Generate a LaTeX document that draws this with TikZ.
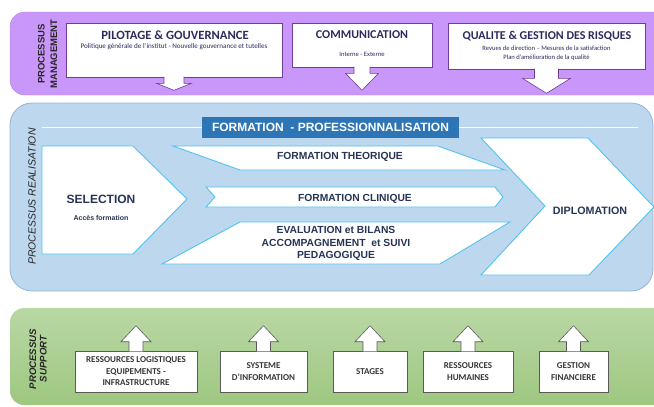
\documentclass[tikz,border=0pt]{standalone}
\usepackage{fontspec}
\setmainfont{Liberation Sans}
\newfontfamily\calibri{Carlito}
\usetikzlibrary{calc}

\definecolor{mauve}{RGB}{201,150,250}
\definecolor{mauvetrait}{RGB}{178,128,228}
\definecolor{violetbord}{RGB}{112,60,150}
\definecolor{titreviolet}{RGB}{45,42,95}
\definecolor{bleufond}{RGB}{189,215,238}
\definecolor{bleubord}{RGB}{150,180,215}
\definecolor{bleutitre}{RGB}{46,117,182}
\definecolor{cyanbord}{RGB}{80,195,240}
\definecolor{texteprocess}{RGB}{38,52,85}
\definecolor{vertclair}{RGB}{185,216,165}
\definecolor{vertfonce}{RGB}{158,199,128}
\definecolor{grisbord}{RGB}{90,90,90}
\definecolor{gristexte}{RGB}{55,55,55}

\begin{document}
\begin{tikzpicture}[
        x=1pt, y=-1pt,
        topbox/.style={draw=violetbord, fill=white, line width=0.6pt, inner sep=0pt},
        toptitle/.style={text=titreviolet, font=\calibri\bfseries\fontsize{12}{14}\selectfont},
        topsub/.style={text=titreviolet, font=\calibri\fontsize{6.6}{9}\selectfont},
        etape/.style={draw=cyanbord, fill=white, line width=0.9pt},
        etapetxt/.style={text=texteprocess, font=\bfseries\fontsize{10.3}{12.5}\selectfont, align=center},
        supbox/.style={draw=grisbord, fill=white, line width=0.6pt, inner sep=0pt, minimum height=41pt,
            text=gristexte, align=center, font=\calibri\bfseries\fontsize{9}{11.5}\selectfont},
        fleche/.style={fill=white, line width=0.6pt}
    ]

        % Page frame
        \useasboundingbox (0,0) rectangle (654,407);
        \clip (0,0) rectangle (654,407);

        % Bands
        \draw[fill=mauve, draw=mauvetrait, rounded corners=15pt] (670,12) -- (10,12) -- (10,95) -- (670,95);
        \draw[fill=bleufond, draw=bleubord, line width=0.8pt, rounded corners=22pt] (10,103) rectangle (653,291);
        \shade[top color=vertclair, bottom color=vertfonce, rounded corners=14pt] (670,308) -- (10,308) -- (10,405) -- (670,405) -- cycle;

        % Band labels
        \node[rotate=90, align=center, font=\bfseries\fontsize{9.5}{12.5}\selectfont, text=black!85] (lmanag) at (47.5,54) {PROCESSUS\\MANAGEMENT};
        \node[rotate=90, font=\itshape\fontsize{10.4}{12}\selectfont, text=black!85] (lreal) at (32,196.5) {PROCESSUS REALISATION};
        \node[rotate=90, align=center, font=\bfseries\itshape\fontsize{9.6}{10.5}\selectfont, text=black!85] (lsupp) at (38,359) {PROCESSUS\\SUPPORT};

        % Management boxes
        \node[topbox, minimum width=216pt, minimum height=54pt] (pil) at (174,50) {};
        \node[topbox, minimum width=140pt, minimum height=44pt] (com) at (362,45) {};
        \node[topbox, minimum width=197pt, minimum height=46pt] (qual) at (546.5,46) {};

        \foreach \n/\s/\a/\h/\t in {pil/10/6/17.5/13, com/8/6/16.5/23, qual/12/9/24/24}
            \draw[fleche, draw=violetbord] ($(\n.south)+(-\s,-0.7)$) -- ($(\n.south)+(-\s,\a)$) -- ($(\n.south)+(-\h,\a)$)
                -- ($(\n.south)+(0,\t)$) -- ($(\n.south)+(\h,\a)$) -- ($(\n.south)+(\s,\a)$) -- ($(\n.south)+(\s,-0.7)$);

        \node[toptitle, font=\calibri\bfseries\fontsize{12.6}{14}\selectfont] (pilt) at (175,35) {PILOTAGE \& GOUVERNANCE};
        \node[topsub, font=\calibri\fontsize{7.1}{9}\selectfont] (pils) at (174,47) {Politique générale de l’institut - Nouvelle gouvernance et tutelles};
        \node[toptitle] (comt) at (362,35) {COMMUNICATION};
        \node[topsub] (coms) at (362,54) {Interne - Externe};
        \node[toptitle] (qualt) at (547,36) {QUALITE \& GESTION DES RISQUES};
        \node[topsub, align=center] (quals) at (546.5,53.5) {Revues de direction – Mesures de la satisfaction\\Plan d’amélioration de la qualité};

        % Title bar
        \draw[white, line width=1pt] (42,127) -- (638,127);
        \node[fill=bleutitre, text=white, minimum width=257pt, minimum height=21pt, inner sep=0pt,
            font=\bfseries\fontsize{12}{14}\selectfont] (titre) at (330.5,127.5) {FORMATION\ \ - PROFESSIONNALISATION};

        % Process steps
        \draw[etape] (42,146) -- (133,146) -- (187,199) -- (133,254) -- (42,254) -- cycle;
        \draw[etape] (173,146) -- (438,146) -- (505,170) -- (240,170) -- cycle;
        \draw[etape] (206,187) -- (495,187) -- (503,197) -- (495,207) -- (206,207) -- (215,197) -- cycle;
        \draw[etape] (240,222) -- (510,222) -- (440,264) -- (162,264) -- cycle;
        \draw[etape] (481,138) -- (588,138) -- (654,207) -- (589,275) -- (481,275) -- (545,206) -- cycle;

        \node[etapetxt, font=\bfseries\fontsize{12}{14}\selectfont] (sel) at (101,199) {SELECTION};
        \node[text=texteprocess, font=\bfseries\fontsize{7}{8}\selectfont] (acces) at (101,218) {Accès formation};
        \node[etapetxt] (theo) at (340,156.5) {FORMATION THEORIQUE};
        \node[etapetxt] (clin) at (355,199) {FORMATION CLINIQUE};
        \node[etapetxt] (eval) at (336,243.5) {EVALUATION et BILANS\\ACCOMPAGNEMENT\ \ et SUIVI\\PEDAGOGIQUE};
        \node[etapetxt, font=\bfseries\fontsize{10.7}{12}\selectfont] (dipl) at (590,211) {DIPLOMATION};

        % Support boxes
        \node[supbox, minimum width=122pt] (logi) at (136,371.5) {RESSOURCES LOGISTIQUES\\EQUIPEMENTS -\\INFRASTRUCTURE};
        \node[supbox, minimum width=87pt] (sinfo) at (263.5,371.5) {SYSTEME\\D’INFORMATION};
        \node[supbox, minimum width=74pt] (stag) at (370,371.5) {STAGES};
        \node[supbox, minimum width=90pt] (rh) at (468,371.5) {RESSOURCES\\HUMAINES};
        \node[supbox, minimum width=69pt] (gfin) at (573.5,371.5) {GESTION\\FINANCIERE};

        \foreach \n in {logi, sinfo, stag, rh, gfin}
            \draw[fleche, draw=grisbord] ($(\n.north)+(-7,0.7)$) -- ($(\n.north)+(-7,-9)$) -- ($(\n.north)+(-15,-9)$)
                -- ($(\n.north)+(0,-25)$) -- ($(\n.north)+(15,-9)$) -- ($(\n.north)+(7,-9)$) -- ($(\n.north)+(7,0.7)$);

    \end{tikzpicture}
\end{document}
